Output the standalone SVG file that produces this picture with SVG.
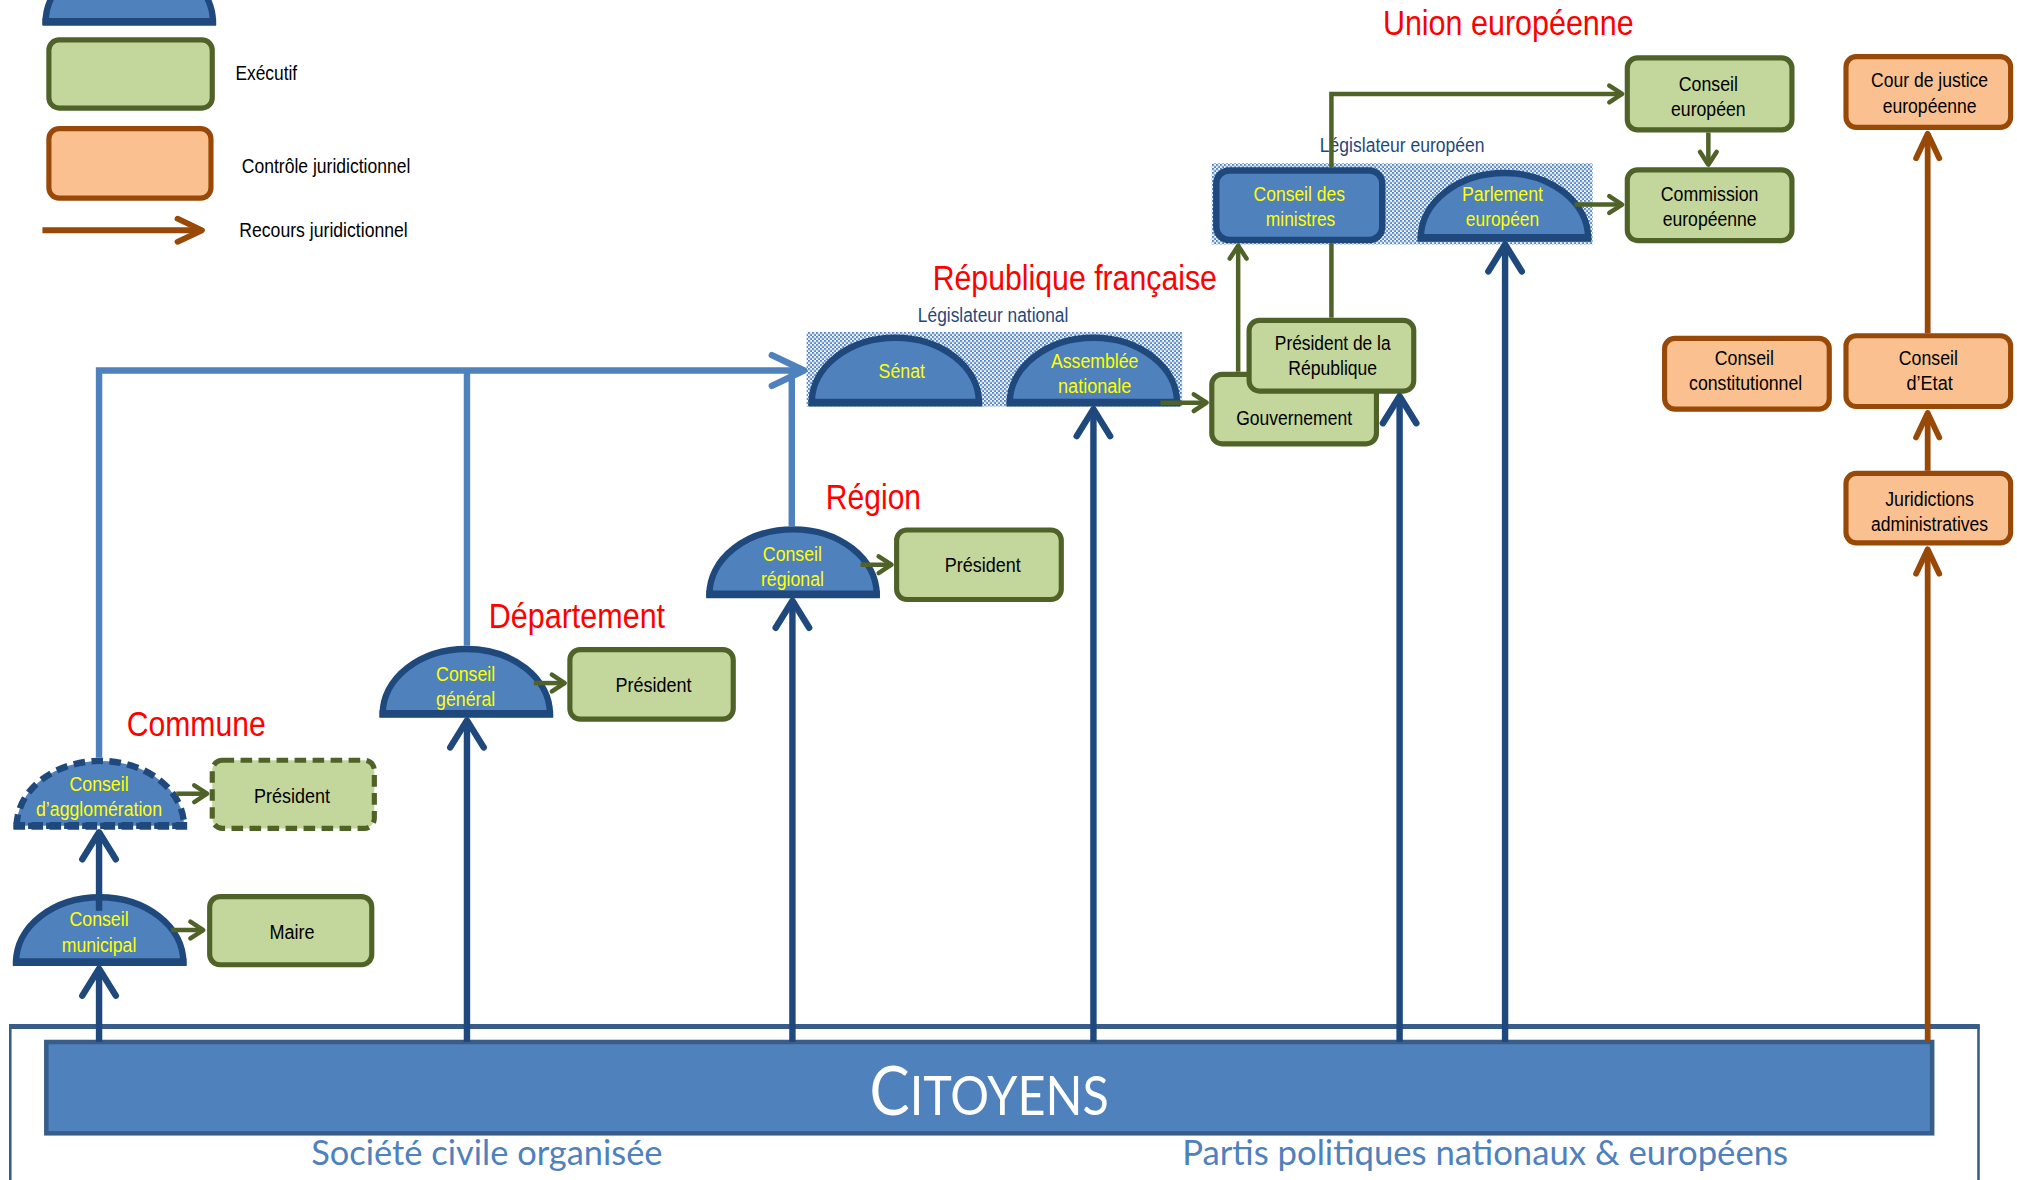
<svg xmlns="http://www.w3.org/2000/svg" width="2017" height="1180" viewBox="0 0 2017 1180">
<defs>
<style>
.g{fill:#c3d69b;stroke:#4f6228;stroke-width:4}
.o{fill:#fac090;stroke:#984807;stroke-width:4}
.b{fill:#4f81bd;stroke:#1f497d;stroke-width:5}
.t{font-family:"Liberation Sans",Arial,sans-serif;font-size:16px;fill:#000;text-anchor:middle}
.y{fill:#ffff00}
.s{text-anchor:start}
.ti{font-family:"Liberation Sans",Arial,sans-serif;font-size:27px;fill:#ff0000}
.lb{fill:#1f497d}
.cd{fill:none;stroke:#1f497d;stroke-width:5;marker-end:url(#mD)}
.cl{fill:none;stroke:#4f81bd;stroke-width:5}
.cg{fill:none;stroke:#4f6228;stroke-width:3.5}
.co{fill:none;stroke:#984807;stroke-width:4.5;marker-end:url(#mO)}
.big{font-family:Lato,"Open Sans",sans-serif;fill:#4f81bd;font-size:27px;text-anchor:middle}
</style>
<pattern id="chk" patternUnits="userSpaceOnUse" width="3.1095" height="3.1095">
<rect width="3.1095" height="3.1095" fill="#ffffff"/>
<rect width="1.5547" height="1.5547" fill="#4f81c4"/>
<rect x="1.5547" y="1.5547" width="1.5547" height="1.5547" fill="#4f81c4"/>
</pattern>
<marker id="mD" markerUnits="userSpaceOnUse" orient="auto" markerWidth="30" markerHeight="30" style="overflow:visible">
<path d="M-21 -13 L0 0 L-21 13" fill="none" stroke="#1f497d" stroke-width="5" stroke-linecap="round" stroke-linejoin="round"/>
</marker>
<marker id="mL" markerUnits="userSpaceOnUse" orient="auto" markerWidth="30" markerHeight="30" style="overflow:visible">
<path d="M-25 -12 L0 0 L-25 12" fill="none" stroke="#4f81bd" stroke-width="5" stroke-linecap="round" stroke-linejoin="round"/>
</marker>
<marker id="mG" markerUnits="userSpaceOnUse" orient="auto" markerWidth="20" markerHeight="20" style="overflow:visible">
<path d="M-10 -6.5 L0 0 L-10 6.5" fill="none" stroke="#4f6228" stroke-width="3.5" stroke-linecap="round" stroke-linejoin="round"/>
</marker>
<marker id="mO" markerUnits="userSpaceOnUse" orient="auto" markerWidth="30" markerHeight="30" style="overflow:visible">
<path d="M-19 -9 L0 0 L-19 9" fill="none" stroke="#984807" stroke-width="4.5" stroke-linecap="round" stroke-linejoin="round"/>
</marker>
<g id="dome">
<path d="M-65 0 A65 50.5 0 0 1 65 0 Z" class="b"/>
<line x1="-67.5" y1="0" x2="67.5" y2="0" stroke="#1f497d" stroke-width="6"/>
</g>
<g id="domed">
<path d="M-65 0 A65 50.5 0 0 1 65 0 Z" class="b" stroke-dasharray="9 5"/>
<line x1="-67.5" y1="0" x2="67.5" y2="0" stroke="#1f497d" stroke-width="6" stroke-dasharray="9 5"/>
</g>
</defs>
<rect width="2017" height="1180" fill="#ffffff"/>
<g transform="scale(1.2864)">

<g id="legend">
<use href="#dome" x="100.5" y="17"/>
<rect class="g" x="38" y="31" width="127" height="53" rx="8"/>
<text class="t s" x="183" y="62.5" textLength="48" lengthAdjust="spacingAndGlyphs">Exécutif</text>
<rect class="o" x="38" y="100" width="126" height="54" rx="8"/>
<text class="t s" x="188" y="134.5" textLength="131" lengthAdjust="spacingAndGlyphs">Contrôle juridictionnel</text>
<line x1="33" y1="179" x2="157" y2="179" class="co"/>
<text class="t s" x="186" y="184.5" textLength="131" lengthAdjust="spacingAndGlyphs">Recours juridictionnel</text>
</g>

<g id="titles">
<text class="ti" x="1075" y="27" textLength="195" lengthAdjust="spacingAndGlyphs">Union européenne</text>
<text class="ti" x="725" y="225.5" textLength="221" lengthAdjust="spacingAndGlyphs">République française</text>
<text class="ti" x="642" y="396" textLength="74" lengthAdjust="spacingAndGlyphs">Région</text>
<text class="ti" x="380" y="488" textLength="137" lengthAdjust="spacingAndGlyphs">Département</text>
<text class="ti" x="98.5" y="572" textLength="108" lengthAdjust="spacingAndGlyphs">Commune</text>
</g>

<g id="citoyens">
<rect x="8" y="798" width="1530" height="140" fill="#ffffff" stroke="#385d8a" stroke-width="2"/>
<line x1="7" y1="798" x2="1539" y2="798" stroke="#385d8a" stroke-width="4"/>
<rect x="36" y="810" width="1466" height="71" fill="#4f81bd" stroke="#385d8a" stroke-width="3.5"/>
<text x="769" y="867" font-family="Lato,'Open Sans',sans-serif" fill="#ffffff" text-anchor="middle" textLength="186" lengthAdjust="spacingAndGlyphs"><tspan font-size="52">C</tspan><tspan font-size="42">ITOYENS</tspan></text>
<text class="big" x="378.5" y="906" textLength="273" lengthAdjust="spacingAndGlyphs">Société civile organisée</text>
<text class="big" x="1154.5" y="906" textLength="471" lengthAdjust="spacingAndGlyphs">Partis politiques nationaux &amp; européens</text>
</g>

<g id="legislateur-europeen">
<rect x="942" y="127" width="296" height="63" fill="url(#chk)"/>
<text class="t lb" x="1090" y="118" textLength="128" lengthAdjust="spacingAndGlyphs">Législateur européen</text>
</g>
<g id="legislateur-national">
<rect x="627" y="258" width="292" height="58" fill="url(#chk)"/>
<text class="t lb" x="772" y="250" textLength="117" lengthAdjust="spacingAndGlyphs">Législateur national</text>
</g>

<g id="n-conseil-ministres">
<rect class="b" x="945.5" y="132.5" width="129" height="54" rx="10"/>
<text class="t y" x="1010" y="156" textLength="71" lengthAdjust="spacingAndGlyphs">Conseil des</text>
<text class="t y" x="1011" y="175.5" textLength="54" lengthAdjust="spacingAndGlyphs">ministres</text>
</g>
<g id="n-parlement-europeen">
<use href="#dome" x="1169.5" y="185"/>
<text class="t y" x="1168" y="156" textLength="63" lengthAdjust="spacingAndGlyphs">Parlement</text>
<text class="t y" x="1168" y="175.5" textLength="57" lengthAdjust="spacingAndGlyphs">européen</text>
</g>
<g id="n-conseil-europeen">
<rect class="g" x="1265" y="45" width="128" height="56" rx="8"/>
<text class="t" x="1328" y="70.5" textLength="46" lengthAdjust="spacingAndGlyphs">Conseil</text>
<text class="t" x="1328" y="90" textLength="58" lengthAdjust="spacingAndGlyphs">européen</text>
</g>
<g id="n-commission">
<rect class="g" x="1265" y="132" width="128" height="55" rx="8"/>
<text class="t" x="1329" y="156" textLength="76" lengthAdjust="spacingAndGlyphs">Commission</text>
<text class="t" x="1329" y="175.5" textLength="73" lengthAdjust="spacingAndGlyphs">européenne</text>
</g>
<g id="n-cour-justice">
<rect class="o" x="1435" y="44" width="128" height="55" rx="8"/>
<text class="t" x="1500" y="68" textLength="91" lengthAdjust="spacingAndGlyphs">Cour de justice</text>
<text class="t" x="1500" y="87.5" textLength="73" lengthAdjust="spacingAndGlyphs">européenne</text>
</g>

<g id="n-senat">
<use href="#dome" x="696" y="313"/>
<text class="t y" x="701" y="294" textLength="36" lengthAdjust="spacingAndGlyphs">Sénat</text>
</g>
<g id="n-assemblee">
<use href="#dome" x="850" y="313"/>
<text class="t y" x="851" y="286" textLength="68" lengthAdjust="spacingAndGlyphs">Assemblée</text>
<text class="t y" x="851" y="305.5" textLength="57" lengthAdjust="spacingAndGlyphs">nationale</text>
</g>
<g id="n-gouvernement">
<rect class="g" x="942" y="291" width="128" height="54" rx="8"/>
<text class="t" x="1006" y="330" textLength="90" lengthAdjust="spacingAndGlyphs">Gouvernement</text>
</g>
<g id="n-president-republique">
<rect class="g" x="971" y="249" width="128" height="55" rx="8"/>
<text class="t" x="1036" y="272" textLength="90" lengthAdjust="spacingAndGlyphs">Président de la</text>
<text class="t" x="1036" y="291.5" textLength="69" lengthAdjust="spacingAndGlyphs">République</text>
</g>
<g id="n-conseil-constitutionnel">
<rect class="o" x="1294" y="263" width="128" height="55" rx="8"/>
<text class="t" x="1356" y="284" textLength="46" lengthAdjust="spacingAndGlyphs">Conseil</text>
<text class="t" x="1357" y="303.5" textLength="88" lengthAdjust="spacingAndGlyphs">constitutionnel</text>
</g>
<g id="n-conseil-etat">
<rect class="o" x="1435" y="261" width="128" height="55" rx="8"/>
<text class="t" x="1499" y="284" textLength="46" lengthAdjust="spacingAndGlyphs">Conseil</text>
<text class="t" x="1500" y="303.5" textLength="36" lengthAdjust="spacingAndGlyphs">d’Etat</text>
</g>
<g id="n-juridictions">
<rect class="o" x="1435" y="368" width="128" height="54" rx="8"/>
<text class="t" x="1500" y="393" textLength="69" lengthAdjust="spacingAndGlyphs">Juridictions</text>
<text class="t" x="1500" y="412.5" textLength="91" lengthAdjust="spacingAndGlyphs">administratives</text>
</g>

<g id="n-conseil-regional">
<use href="#dome" x="616.5" y="462"/>
<text class="t y" x="616" y="436" textLength="46" lengthAdjust="spacingAndGlyphs">Conseil</text>
<text class="t y" x="616" y="455.5" textLength="49" lengthAdjust="spacingAndGlyphs">régional</text>
</g>
<g id="n-president-region">
<rect class="g" x="697" y="412" width="128" height="54" rx="8"/>
<text class="t" x="764" y="445" textLength="59" lengthAdjust="spacingAndGlyphs">Président</text>
</g>
<g id="n-conseil-general">
<use href="#dome" x="362.5" y="555"/>
<text class="t y" x="362" y="529" textLength="46" lengthAdjust="spacingAndGlyphs">Conseil</text>
<text class="t y" x="362" y="548.5" textLength="46" lengthAdjust="spacingAndGlyphs">général</text>
</g>
<g id="n-president-departement">
<rect class="g" x="443" y="505" width="127" height="54" rx="8"/>
<text class="t" x="508" y="538" textLength="59" lengthAdjust="spacingAndGlyphs">Président</text>
</g>
<g id="n-conseil-agglomeration">
<use href="#domed" x="78" y="642"/>
<text class="t y" x="77" y="615" textLength="46" lengthAdjust="spacingAndGlyphs">Conseil</text>
<text class="t y" x="77" y="634.5" textLength="98" lengthAdjust="spacingAndGlyphs">d’agglomération</text>
</g>
<g id="n-president-agglomeration">
<rect class="g" x="165" y="591" width="126" height="53" rx="8" stroke-dasharray="9 5"/>
<text class="t" x="227" y="624" textLength="59" lengthAdjust="spacingAndGlyphs">Président</text>
</g>
<g id="n-conseil-municipal">
<use href="#dome" x="77.5" y="748"/>
<text class="t y" x="77" y="720" textLength="46" lengthAdjust="spacingAndGlyphs">Conseil</text>
<text class="t y" x="77" y="740" textLength="58" lengthAdjust="spacingAndGlyphs">municipal</text>
</g>
<g id="n-maire">
<rect class="g" x="163" y="697" width="126" height="53" rx="8"/>
<text class="t" x="227" y="730" textLength="35" lengthAdjust="spacingAndGlyphs">Maire</text>
</g>

<g id="connectors">
<path class="cd" d="M77 810 V753"/>
<path class="cd" d="M77 708 V647"/>
<path class="cd" d="M363 810 V560"/>
<path class="cd" d="M616 810 V467"/>
<path class="cd" d="M850 810 V318"/>
<path class="cd" d="M1088 810 V308"/>
<path class="cd" d="M1170 810 V190"/>
<path class="cl" d="M77 589 V288 H625" marker-end="url(#mL)"/>
<path class="cl" d="M363 502 V288"/>
<path class="cl" d="M615.5 409 V288"/>
<path class="cg" d="M133 723 H158" marker-end="url(#mG)"/>
<path class="cg" d="M137 617 H161" marker-end="url(#mG)"/>
<path class="cg" d="M415 531 H439" marker-end="url(#mG)"/>
<path class="cg" d="M669 439 H693" marker-end="url(#mG)"/>
<path class="cg" d="M902 313 H938" marker-end="url(#mG)"/>
<path class="cg" d="M1224 159 H1261" marker-end="url(#mG)"/>
<path class="cg" d="M1328 103 V128" marker-end="url(#mG)"/>
<path class="cg" d="M962.5 289 V191" marker-end="url(#mG)"/>
<path class="cg" d="M1035 247 V189"/>
<path class="cg" d="M1035 130 V73 H1261" marker-end="url(#mG)"/>
<path class="co" d="M1498.5 810 V427"/>
<path class="co" d="M1498.5 366 V321"/>
<path class="co" d="M1498.5 259 V104"/>
</g>
</g>
</svg>
